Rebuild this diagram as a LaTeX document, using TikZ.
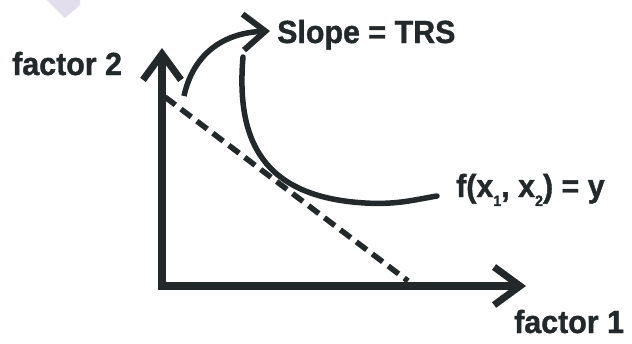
\documentclass[tikz,border=0pt]{standalone}
\usepackage{fontspec}
\setmainfont{Liberation Sans}[FakeStretch=0.95,BoldFeatures={FakeBold=1.2}]
\usepackage{tikz}
\usetikzlibrary{arrows.meta,calc,positioning}
\definecolor{axisink}{RGB}{35,40,43}
\definecolor{marklav}{RGB}{226,222,238}
\tikzset{
  axis/.style={draw=axisink,line width=8pt,
    -{Straight Barb[length=26pt,width=38pt,line width=7pt]}},
  isoquant/.style={draw=axisink,line width=5.5pt,line cap=round},
  tangent/.style={draw=axisink,line width=5.5pt,dash pattern=on 13pt off 7pt},
  slopeflow/.style={draw=axisink,line width=5.5pt,
    -{Straight Barb[length=22pt,width=36pt,line width=6pt]}},
  lab/.style={font=\fontsize{32}{34}\selectfont\bfseries,text=axisink,
    inner sep=0pt,anchor=base west}
}
\newcommand{\subidx}[1]{\raisebox{-0.28em}{\fontsize{15}{15}\selectfont #1}}

\begin{document}
\begin{tikzpicture}[x=1pt,y=-1pt]
  \useasboundingbox (0,0) rectangle (632,343);
  \fill[marklav] (47,0) -- (80,0) -- (80,5) -- (65,18) -- cycle;

  \coordinate (orig) at (162,286);
  \coordinate (ytip) at (162,48);
  \coordinate (xtip) at (526,286);
  \coordinate (tanA) at (165,97);
  \coordinate (tanB) at (408,281);
  \coordinate (isoTop) at (243,57);
  \coordinate (isoEnd) at (437,196);
  \coordinate (arrBase) at (184,96);
  \coordinate (arrTip) at (270,31);

  \draw[axis,line cap=butt] ($(orig)+(0,4)$) -- (ytip);
  \draw[axis] ($(orig)+(-4,0)$) -- (xtip);
  \draw[tangent] (tanA) -- (tanB);
  \draw[isoquant] (isoTop) .. controls (236,140) and (262,197) .. (365,203)
    .. controls (398,205) and (418,199) .. (isoEnd);
  \draw[slopeflow] (arrBase) .. controls (193,55) and (222,33) .. (arrTip);

  \node[lab] (fac2) at (12,75) {factor 2};
  \node[lab] (fac1) at (514,333) {factor 1};
  \node[lab] (slopelab) at (277,43) {Slope = TRS};
  \node[lab] (isolab) at (456,197) {f(x\subidx{1}, x\subidx{2}) = y};
\end{tikzpicture}
\end{document}
